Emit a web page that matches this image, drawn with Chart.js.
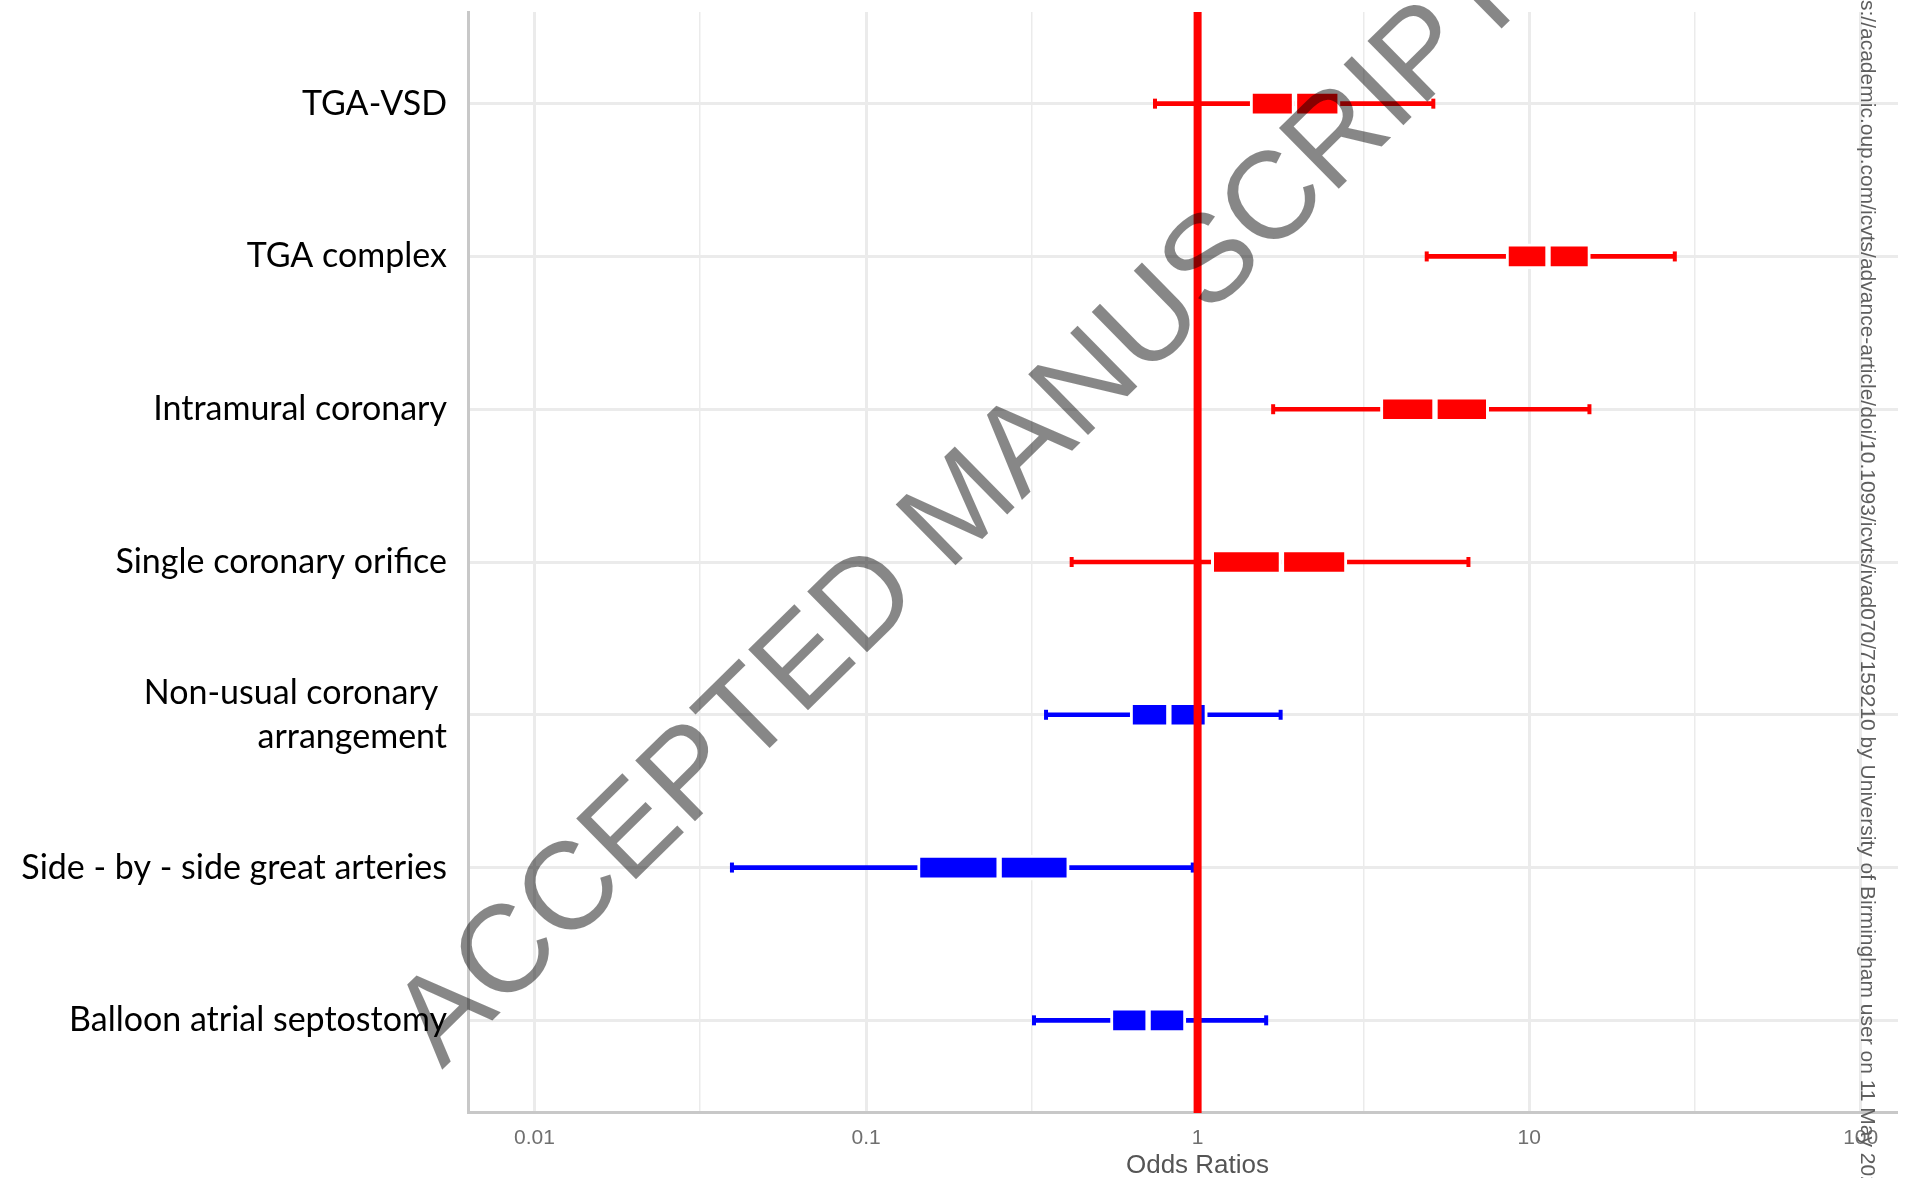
<!DOCTYPE html>
<html>
<head>
<meta charset="utf-8">
<script src="https://cdn.jsdelivr.net/npm/chart.js@4.4.0/dist/chart.umd.min.js"></script>
<style>
    html, body { margin: 0; padding: 0; background: #fff; overflow: hidden; }
    .ForestWrapper { width: 1936px; height: 1178px; }
</style>
</head>
<body>
<div class='ForestWrapper'>
    <canvas id='ForestPlot'></canvas>
</div>
<script>
// rows, top to bottom
const categories = [
    'TGA-VSD',
    'TGA complex',
    'Intramural coronary',
    'Single coronary orifice',
    ['Non-usual coronary ', 'arrangement'],
    'Side - by - side great arteries',
    'Balloon atrial septostomy'
]

// odds ratios
const lowCI  = [0.744, 4.91, 1.69, 0.417, 0.349, 0.0394, 0.321]
const q1     = [1.44, 8.52, 3.56, 1.10, 0.626, 0.143, 0.546]
const median = [1.96, 11.4, 5.20, 1.79, 0.819, 0.252, 0.709]
const q3     = [2.69, 15.3, 7.55, 2.82, 1.07, 0.410, 0.922]
const highCI = [5.14, 27.5, 15.2, 6.56, 1.78, 0.967, 1.61]

const majorTicks = [0.01, 0.1, 1, 10, 100]
const majorTickLabels = ['0.01', '0.1', '1', '10', '100']
const minorTicks = [0.0316, 0.316, 3.16, 31.6]
const refValue = 1

const colors = median.map(m => m > refValue ? '#ff0000' : '#0000ff')

const whiskers = categories.map((c, i) => ({x: [lowCI[i], highCI[i]], y: i}))
const lowerBox = categories.map((c, i) => ({x: [q1[i], median[i]], y: i}))
const upperBox = categories.map((c, i) => ({x: [median[i], q3[i]], y: i}))
const lowCaps = categories.map((c, i) => ({x: lowCI[i], y: i}))
const highCaps = categories.map((c, i) => ({x: highCI[i], y: i}))

const decorPlugin = {
    id: 'decor',
    afterDatasetsDraw(chart) {
        const {ctx, chartArea, scales} = chart
        const x = scales.x.getPixelForValue(refValue)
        ctx.save()
        ctx.strokeStyle = '#ff0000'
        ctx.lineWidth = 8
        ctx.beginPath()
        ctx.moveTo(x, chartArea.top)
        ctx.lineTo(x, chartArea.bottom + 1)
        ctx.stroke()
        ctx.restore()
    },
    afterDraw(chart) {
        const {ctx} = chart
        ctx.save()
        // page edge of the original figure
        ctx.fillStyle = '#ffffff'
        ctx.fillRect(1898, 0, 40, 1116)

        // download stamp along the right edge
        ctx.font = '21px "Liberation Sans", Arial, sans-serif'
        ctx.fillStyle = '#5e5e5e'
        const stamp = 'Downloaded from https://academic.oup.com/icvts/advance-article/doi/10.1093/icvts/ivad070/7159210 by University of Birmingham user on 11 May 2023'
        const skip = ctx.measureText('Downloaded from http').width
        ctx.translate(1861, -skip)
        ctx.rotate(Math.PI / 2)
        ctx.textBaseline = 'alphabetic'
        ctx.fillText(stamp, 0, 0)
        ctx.restore()

        // watermark
        ctx.save()
        ctx.font = '124px "Liberation Sans", Arial, sans-serif'
        ctx.fillStyle = 'rgba(0,0,0,0.47)'
        ctx.translate(442, 1070)
        ctx.rotate(-44.5 * Math.PI / 180)
        ctx.textBaseline = 'alphabetic'
        ctx.fillText('ACCEPTED MANUSCRIPT', 0, 0)
        ctx.restore()
    }
}

const ctx = document.getElementById('ForestPlot')
new Chart(ctx, {
    type: 'bar',
    data: {
        datasets: [{
            label: 'box low',
            data: lowerBox,
            backgroundColor: colors,
            borderColor: '#ffffff',
            borderWidth: 3,
            borderSkipped: false,
            barThickness: 25,
            grouped: false,
            order: 1
        },
        {
            label: 'box high',
            data: upperBox,
            backgroundColor: colors,
            borderColor: '#ffffff',
            borderWidth: 3,
            borderSkipped: false,
            barThickness: 25,
            grouped: false,
            order: 1
        },
        {
            type: 'scatter',
            label: 'low cap',
            data: lowCaps,
            pointStyle: 'line',
            rotation: 90,
            radius: 5,
            borderWidth: 4,
            borderColor: colors,
            order: 2
        },
        {
            type: 'scatter',
            label: 'high cap',
            data: highCaps,
            pointStyle: 'line',
            rotation: 90,
            radius: 5,
            borderWidth: 4,
            borderColor: colors,
            order: 2
        },
        {
            label: 'CI',
            data: whiskers,
            backgroundColor: colors,
            borderWidth: 0,
            barThickness: 4,
            grouped: false,
            order: 3
        }]
    },
    options: {
        indexAxis: 'y',
        responsive: true,
        maintainAspectRatio: false,
        animation: false,
        layout: { padding: { top: 12, left: 0, right: 0, bottom: 0 } },
        plugins: {
            legend: { display: false },
            tooltip: { enabled: false }
        },
        scales: {
            x: {
                type: 'logarithmic',
                min: 0.0063,
                max: 158.5,
                afterBuildTicks: scale => {
                    scale.ticks = majorTicks.concat(minorTicks).sort((a, b) => a - b).map(v => ({value: v}))
                },
                afterFit: scale => {
                    scale.height = 66
                    scale.paddingLeft = 0
                    scale.paddingRight = 0
                },
                ticks: {
                    autoSkip: false,
                    maxRotation: 0,
                    padding: 14,
                    color: '#6f6f6f',
                    font: { family: '"Liberation Sans", Arial, sans-serif', size: 21 },
                    callback: value => {
                        const i = majorTicks.indexOf(value)
                        return i >= 0 ? majorTickLabels[i] : ''
                    }
                },
                grid: {
                    color: '#ebebeb',
                    lineWidth: c => (c.tick && minorTicks.includes(c.tick.value)) ? 1.5 : 3,
                    drawTicks: false
                },
                border: { display: true, color: '#c8c8c8', width: 3 },
                title: {
                    display: true,
                    text: 'Odds Ratios',
                    color: '#555555',
                    padding: { top: 0, bottom: -3 },
                    font: { family: '"Liberation Sans", Arial, sans-serif', size: 26 }
                }
            },
            y: {
                type: 'linear',
                reverse: true,
                min: -0.6,
                max: categories.length - 0.4,
                offset: false,
                afterBuildTicks: scale => {
                    scale.ticks = categories.map((c, i) => ({value: i}))
                },
                afterFit: scale => {
                    scale.width = 468
                    scale.paddingTop = 0
                    scale.paddingBottom = 0
                },
                ticks: {
                    autoSkip: false,
                    padding: 21,
                    color: '#000000',
                    font: { family: 'Lato, sans-serif', size: 34, lineHeight: 1.29 },
                    callback: value => categories[value]
                },
                grid: {
                    color: '#ebebeb',
                    lineWidth: 3,
                    offset: false,
                    drawTicks: false
                },
                border: { display: true, color: '#c8c8c8', width: 3 }
            }
        }
    },
    plugins: [decorPlugin]
})
</script>
</body>
</html>
